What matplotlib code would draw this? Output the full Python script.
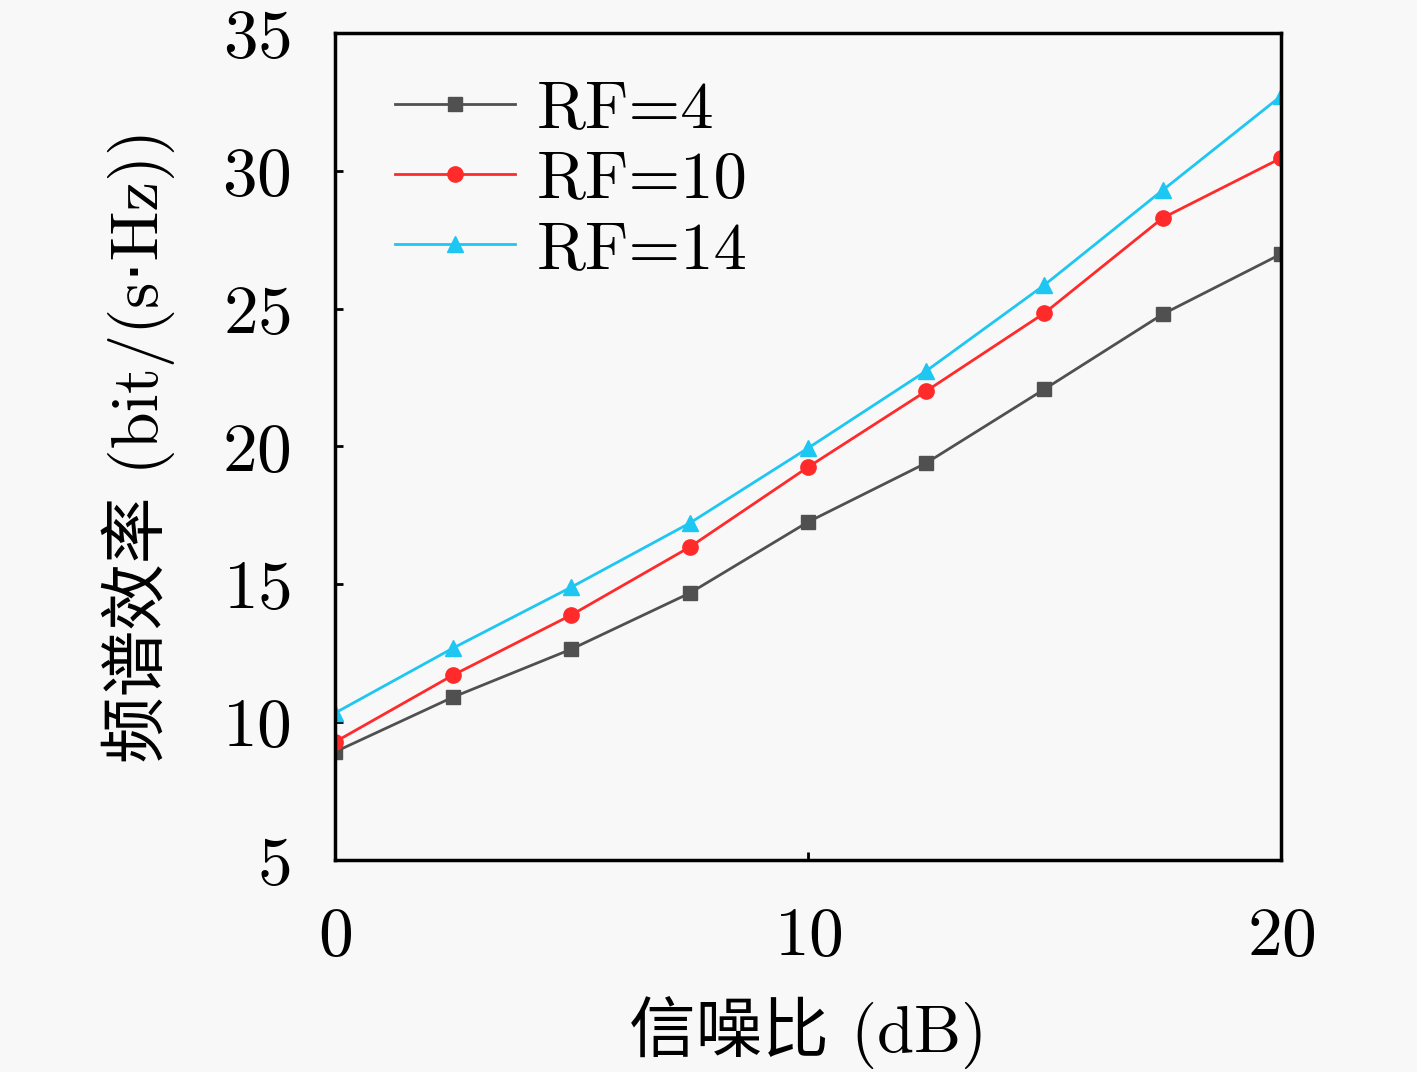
import matplotlib
matplotlib.use("Agg")
import matplotlib.pyplot as plt

snr = [0, 2.5, 5, 7.5, 10, 12.5, 15, 17.5, 20]
rf4 = [8.92, 10.91, 12.65, 14.68, 17.26, 19.40, 22.08, 24.80, 26.98]
rf10 = [9.28, 11.71, 13.89, 16.35, 19.25, 22.01, 24.84, 28.29, 30.46]
rf14 = [10.33, 12.69, 14.90, 17.22, 19.94, 22.74, 25.86, 29.30, 32.71]
labels = ["RF=4", "RF=10", "RF=14"]
xticks = [0, 10, 20]
yticks = [5, 10, 15, 20, 25, 30, 35]

plt.rcParams['font.family'] = ['cmr10', 'DejaVu Sans', 'Noto Sans CJK SC']
plt.rcParams['axes.formatter.use_mathtext'] = True

bg = '#f8f8f8'
fig = plt.figure(figsize=(14.17, 10.72), dpi=100, facecolor=bg)
ax = fig.add_axes([0.2364, 0.1978, 0.9040 - 0.2364, 0.9692 - 0.1978])
ax.set_facecolor(bg)

ax.plot(snr, rf4, color='#505050', marker='s', markersize=10.5, linewidth=2, label=labels[0])
ax.plot(snr, rf10, color='#ff2a2a', marker='o', markersize=11, linewidth=2, label=labels[1])
ax.plot(snr, rf14, color='#1ec6f2', marker='^', markersize=12, linewidth=2, label=labels[2])

ax.set_xlim(0, 20)
ax.set_ylim(5, 35)
ax.set_xticks(xticks)
ax.set_yticks(yticks)
ax.tick_params(direction='in', length=6, width=2, labelsize=50)
ax.tick_params(axis='y', pad=32)
ax.tick_params(axis='x', pad=34)
for s in ax.spines.values():
    s.set_linewidth(2.5)

ax.set_xlabel('信噪比 (dB)', fontsize=48, labelpad=20,
              family=['cmr10', 'DejaVu Sans', 'Noto Sans CJK SC'])
ax.set_ylabel('频谱效率 (bit/(s·Hz))', fontsize=48, labelpad=34,
              family=['cmr10', 'DejaVu Sans', 'Noto Sans CJK SC'])

leg = ax.legend(loc='upper left', fontsize=48, frameon=False, handlelength=1.8,
                handletextpad=0.33, labelspacing=0.16, borderaxespad=0.0,
                borderpad=0.4, bbox_to_anchor=(0.035, 0.975))

fig.savefig('out.png', dpi=100, facecolor=bg)
